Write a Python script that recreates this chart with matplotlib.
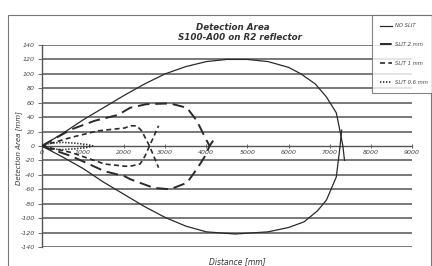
import matplotlib
matplotlib.use("Agg")
import matplotlib.pyplot as plt
from matplotlib.patches import Rectangle

# ---- data ----
noslit_up_x = [0, 500, 1000, 1500, 2000, 2500, 3000, 3500, 4000, 4500, 5000, 5500, 6000, 6300, 6650, 6920, 7160, 7260, 7320, 7360]
noslit_up_y = [0, 17, 36, 53, 70, 86, 100, 110, 117, 120, 120, 117, 109, 100, 86, 68, 46, 18, 0, -20]
noslit_lo_x = [0, 500, 1000, 1500, 2000, 2500, 3000, 3500, 4000, 4700, 5500, 6000, 6380, 6700, 6920, 7160, 7250, 7290]
noslit_lo_y = [0, -15, -31, -50, -67, -84, -99, -111, -119, -122, -119, -113, -105, -90, -75, -43, -1, 22]

slit2_up_x = [0, 720, 1290, 1850, 2150, 2550, 3120, 3530, 3770, 3970, 4080]
slit2_up_y = [0, 23, 35, 43, 53, 58, 59, 53, 35, 12, 0]
slit2_lo_x = [0, 720, 1530, 2020, 2150, 2720, 3120, 3530, 3770, 3970, 4080, 4220]
slit2_lo_y = [0, -14, -35, -42, -46, -58, -60, -51, -32, -14, 0, 12]

slit1_up_x = [0, 720, 1370, 2020, 2150, 2310, 2430, 2620, 2840]
slit1_up_y = [0, 12, 21, 25, 28, 28, 21, 0, -30]
slit1_lo_x = [0, 720, 1530, 2020, 2150, 2390, 2510, 2620, 2840]
slit1_lo_y = [0, -9, -25, -28, -28, -25, -14, 0, 28]

slit06_up_x = [0, 200, 500, 800, 1100, 1250]
slit06_up_y = [0, 4, 5, 4, 2, 0]
slit06_lo_x = [0, 200, 500, 800, 1100, 1250]
slit06_lo_y = [0, -4, -5, -4, -2, 0]

series_labels = ["NO SLIT", "SLIT 2 mm", "SLIT 1 mm", "SLIT 0.6 mm"]
x_ticks = [0, 1000, 2000, 3000, 4000, 5000, 6000, 7000, 8000, 9000]
y_ticks = list(range(-140, 141, 20))
title_lines = ["Detection Area", "S100-A00 on R2 reflector"]

# ---- figure ----
W, H = 432, 266
fig = plt.figure(figsize=(W / 100, H / 100), dpi=100)
fig.patch.set_facecolor("white")

# outer chart frame
fig.patches.append(Rectangle((8 / W, -0.05), (431 - 8) / W, 1.05 - 15 / H,
                             transform=fig.transFigure, fill=False,
                             edgecolor="#777777", linewidth=0.8, zorder=0))

ax = fig.add_axes([41.7 / W, 1 - 247 / H, (412 - 41.7) / W, (247 - 45) / H])
ax.set_facecolor("none")
ax.set_xlim(0, 9000)
ax.set_ylim(-140, 140)

grid_c = "#555555"
for yv in y_ticks:
    if yv != 0:
        ax.axhline(yv, color=grid_c, linewidth=1.1, zorder=1)

c = "#2a2a2a"
l1, = ax.plot(noslit_up_x, noslit_up_y, color=c, linewidth=0.9, label=series_labels[0], zorder=3)
ax.plot(noslit_lo_x, noslit_lo_y, color=c, linewidth=0.9, zorder=3)
l2, = ax.plot(slit2_up_x, slit2_up_y, color=c, linewidth=1.4, dashes=(6, 3), label=series_labels[1], zorder=3)
ax.plot(slit2_lo_x, slit2_lo_y, color=c, linewidth=1.4, dashes=(6, 3), zorder=3)
l3, = ax.plot(slit1_up_x, slit1_up_y, color=c, linewidth=1.2, dashes=(3, 2), label=series_labels[2], zorder=3)
ax.plot(slit1_lo_x, slit1_lo_y, color=c, linewidth=1.2, dashes=(3, 2), zorder=3)
l4, = ax.plot(slit06_up_x, slit06_up_y, color=c, linewidth=1.2, dashes=(0.8, 1.0), label=series_labels[3], zorder=3)
ax.plot(slit06_lo_x, slit06_lo_y, color=c, linewidth=1.2, dashes=(0.8, 1.0), zorder=3)

# axes styling
for s in ["top", "right"]:
    ax.spines[s].set_visible(False)
ax.spines["bottom"].set_position(("data", 0))
ax.spines["bottom"].set_color(grid_c)
ax.spines["left"].set_color(grid_c)
ax.spines["bottom"].set_linewidth(1.0)
ax.spines["left"].set_linewidth(1.0)

ax.set_xticks(x_ticks)
ax.set_xticklabels([str(v) for v in x_ticks], fontsize=4.5, style="italic", color="#444444")
ax.set_yticks(y_ticks)
ax.set_yticklabels([str(v) for v in y_ticks], fontsize=4.5, style="italic", color="#444444")
ax.tick_params(axis="x", direction="inout", length=3, width=0.6, color=grid_c, pad=1.5)
ax.tick_params(axis="y", direction="out", length=3, width=0.6, color=grid_c, pad=2)

# titles and labels
fig.text(233 / W, 1 - 28 / H, title_lines[0], ha="center", va="center",
         fontsize=6.3, fontweight="bold", style="italic", color="#333333")
fig.text(240 / W, 1 - 37 / H, title_lines[1], ha="center", va="center",
         fontsize=6.3, fontweight="bold", style="italic", color="#333333")
fig.text(237 / W, 1 - 262 / H, "Distance [mm]", ha="center", va="center",
         fontsize=5.5, style="italic", color="#333333")
fig.text(19 / W, 1 - 148 / H, "Detection Area [mm]", ha="center", va="center",
         rotation=90, fontsize=5, style="italic", color="#333333")

leg = fig.legend(handles=[l1, l2, l3, l4], loc="upper left",
                 bbox_to_anchor=(372 / W, 1 - 15 / H), bbox_transform=fig.transFigure,
                 fontsize=3.8, frameon=True, fancybox=False, handlelength=2.2,
                 handletextpad=0.5, labelspacing=2.6, borderpad=1.6, borderaxespad=0)
leg.get_frame().set_edgecolor("#666666")
leg.get_frame().set_linewidth(0.8)
for t in leg.get_texts():
    t.set_style("italic")
    t.set_color("#444444")

fig.savefig("out.png", dpi=100)
